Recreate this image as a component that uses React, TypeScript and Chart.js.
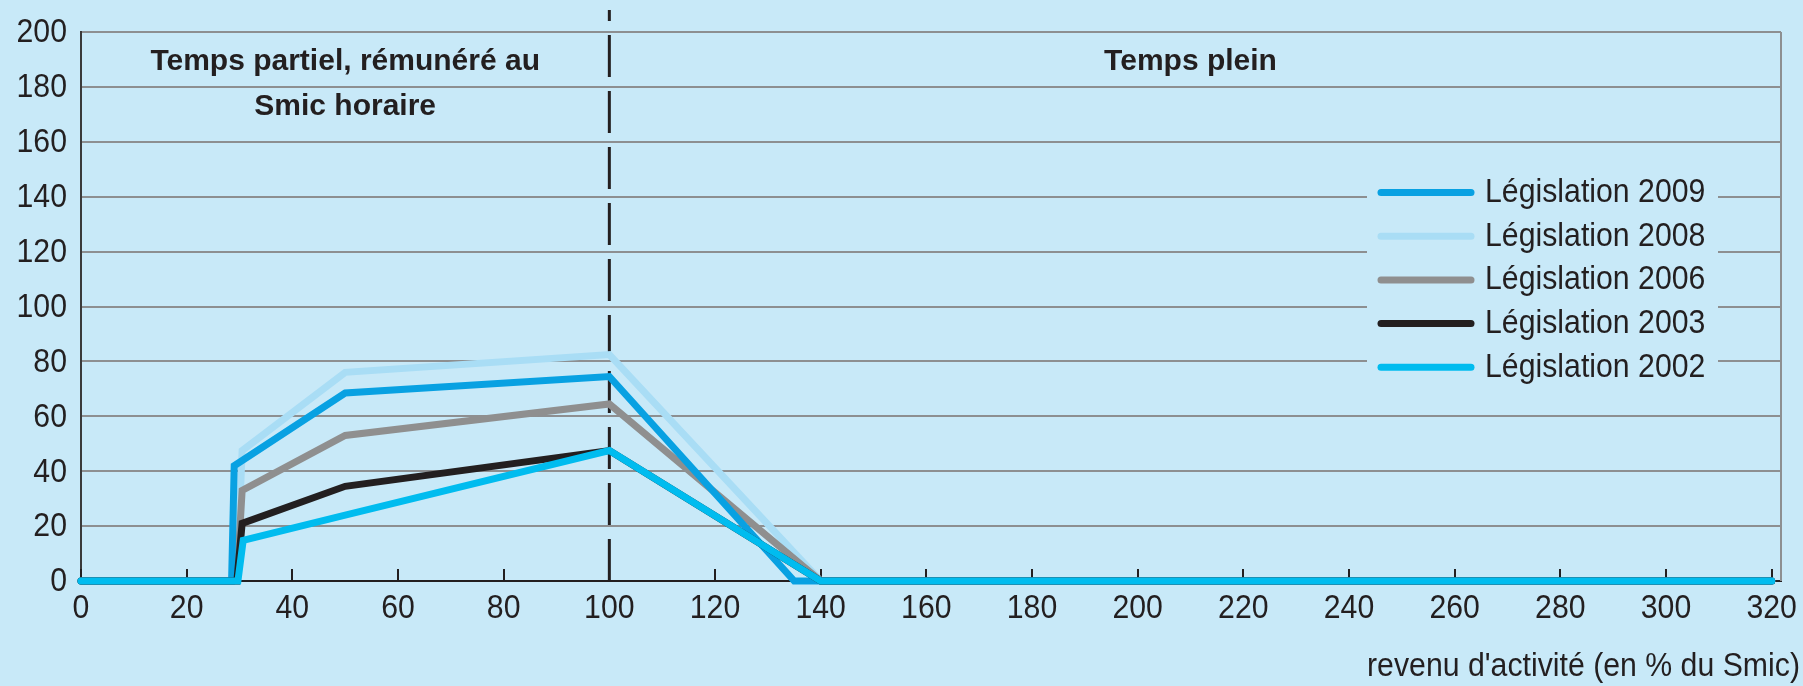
import React, { useEffect, useRef } from "react";
import { Chart, registerables } from "chart.js";

Chart.register(...registerables);

// ---- data ----
const seriesLabels = [
  "Législation 2009",
  "Législation 2008",
  "Législation 2006",
  "Législation 2003",
  "Législation 2002",
];
const seriesColors = ["#08a1e2", "#a9ddf5", "#8f8f8f", "#231f20", "#00bcef"];
const seriesOrder = [2, 4, 3, 1, 0];

const x2009 = [0, 28.5, 29, 50, 100, 135, 320];
const y2009 = [0, 0, 42, 68.5, 74.5, 0, 0];
const x2008 = [0, 29.5, 30.5, 50, 100, 140, 320];
const y2008 = [0, 0, 47.5, 76, 82.5, 0, 0];
const x2006 = [0, 29.5, 30.5, 50, 100, 140, 320];
const y2006 = [0, 0, 33, 53, 64.5, 0, 0];
const x2003 = [0, 29.5, 30.5, 50, 100, 140, 320];
const y2003 = [0, 0, 21, 34.5, 47.5, 0, 0];
const x2002 = [0, 29.7, 30.7, 50, 100, 140, 320];
const y2002 = [0, 0, 14.8, 24, 47.5, 0, 0];

const seriesX = [x2009, x2008, x2006, x2003, x2002];
const seriesY = [y2009, y2008, y2006, y2003, y2002];

const xTickValues = [0, 20, 40, 60, 80, 100, 120, 140, 160, 180, 200, 220, 240, 260, 280, 300, 320];
const yTickValues = [0, 20, 40, 60, 80, 100, 120, 140, 160, 180, 200];

const dividerX = 100;
const zoneLeftLines = ["Temps partiel, rémunéré au", "Smic horaire"];
const zoneLeftCenter = 50;
const zoneRightLines = ["Temps plein"];
const zoneRightCenter = 210;
const xAxisTitle = "revenu d'activité (en % du Smic)";

const BG = "#c8e9f8";
const INK = "#231f20";
const GRID = "#8d8f91";
const FONT = "'Liberation Sans', Arial, sans-serif";
const NARROW = 0.89;

function drawText(ctx: CanvasRenderingContext2D, text: string, x: number, y: number, align: CanvasTextAlign, sx: number) {
  ctx.save();
  ctx.translate(x, y);
  ctx.scale(sx, 1);
  ctx.textAlign = align;
  ctx.textBaseline = "middle";
  ctx.fillText(text, 0, 0);
  ctx.restore();
}

const overlayPlugin = {
  id: "overlay",
  beforeDatasetsDraw(chart: any) {
    const { ctx, chartArea, scales } = chart;
    const x = scales.x;
    const y = scales.y;
    ctx.save();
    // right border
    ctx.strokeStyle = GRID;
    ctx.lineWidth = 2;
    ctx.beginPath();
    ctx.moveTo(chartArea.right, chartArea.top);
    ctx.lineTo(chartArea.right, chartArea.bottom);
    ctx.stroke();
    // inward x ticks
    ctx.strokeStyle = INK;
    ctx.lineWidth = 2;
    for (const v of xTickValues) {
      const px = Math.round(x.getPixelForValue(v));
      ctx.beginPath();
      ctx.moveTo(px, chartArea.bottom);
      ctx.lineTo(px, chartArea.bottom - 12);
      ctx.stroke();
    }
    // dashed divider
    const dx = x.getPixelForValue(dividerX);
    ctx.strokeStyle = INK;
    ctx.lineWidth = 3;
    ctx.setLineDash([42, 14]);
    ctx.beginPath();
    ctx.moveTo(dx, chartArea.bottom);
    ctx.lineTo(dx, chartArea.top - 22);
    ctx.stroke();
    ctx.setLineDash([]);
    // zone labels
    ctx.fillStyle = INK;
    ctx.font = `bold 30px ${FONT}`;
    zoneLeftLines.forEach((t, i) => {
      drawText(ctx, t, x.getPixelForValue(zoneLeftCenter), chartArea.top + 30 + i * 45, "center", 1);
    });
    zoneRightLines.forEach((t, i) => {
      drawText(ctx, t, x.getPixelForValue(zoneRightCenter), chartArea.top + 30 + i * 45, "center", 1);
    });
    // tick labels
    ctx.font = `34px ${FONT}`;
    for (const v of yTickValues) {
      drawText(ctx, String(v), chartArea.left - 14, y.getPixelForValue(v) + 1, "right", NARROW);
    }
    for (const v of xTickValues) {
      drawText(ctx, String(v), x.getPixelForValue(v), chartArea.bottom + 28, "center", NARROW);
    }
    ctx.restore();
  },
  afterDatasetsDraw(chart: any) {
    const { ctx } = chart;
    ctx.save();
    // legend box
    ctx.fillStyle = BG;
    ctx.fillRect(1367, 168, 351, 224);
    chart.data.datasets.forEach((ds: any, i: number) => {
      const cy = 192.5 + i * 43.7;
      ctx.strokeStyle = ds.borderColor;
      ctx.lineWidth = 7;
      ctx.lineCap = "round";
      ctx.beginPath();
      ctx.moveTo(1381, cy);
      ctx.lineTo(1471, cy);
      ctx.stroke();
      ctx.fillStyle = INK;
      ctx.font = `34px ${FONT}`;
      drawText(ctx, ds.label, 1485, cy, "left", NARROW);
    });
    // axis title
    ctx.fillStyle = INK;
    ctx.font = `34px ${FONT}`;
    drawText(ctx, xAxisTitle, 1800, 667, "right", NARROW);
    ctx.restore();
  },
};

export default function App() {
  const canvasRef = useRef<HTMLCanvasElement | null>(null);

  useEffect(() => {
    document.body.style.margin = "0";
    const canvas = canvasRef.current;
    if (!canvas) return;
    const datasets = seriesLabels.map((label, i) => ({
      label,
      data: seriesX[i].map((xv, j) => ({ x: xv, y: seriesY[i][j] })),
      borderColor: seriesColors[i],
      backgroundColor: seriesColors[i],
      borderWidth: 7,
      pointRadius: 0,
      tension: 0,
      fill: false,
      clip: false as any,
      borderCapStyle: "round" as const,
      borderJoinStyle: "miter" as const,
      order: seriesOrder[i],
    }));
    const chart = new Chart(canvas, {
      type: "line",
      data: { datasets },
      options: {
        animation: false,
        responsive: false,
        maintainAspectRatio: false,
        layout: { padding: { left: 0, right: 22, top: 32, bottom: 0 } },
        plugins: { legend: { display: false }, tooltip: { enabled: false } },
        scales: {
          x: {
            type: "linear",
            min: 0,
            max: 321.76,
            afterBuildTicks: (s: any) => {
              s.ticks = xTickValues.map((v) => ({ value: v }));
            },
            afterFit: (s: any) => {
              s.height = 105;
            },
            grid: { display: false, drawTicks: false },
            border: { display: true, color: INK, width: 2 },
            ticks: { display: false },
          },
          y: {
            type: "linear",
            min: 0,
            max: 200,
            afterBuildTicks: (s: any) => {
              s.ticks = yTickValues.map((v) => ({ value: v }));
            },
            afterFit: (s: any) => {
              s.width = 81;
            },
            grid: { color: GRID, lineWidth: 2, drawTicks: false },
            border: { display: true, color: "#3a3a3a", width: 2 },
            ticks: { display: false },
          },
        },
      },
      plugins: [overlayPlugin],
    });
    return () => chart.destroy();
  }, []);

  return (
    <div style={{ position: "absolute", left: 0, top: 0, width: 1803, height: 686, background: BG }}>
      <canvas ref={canvasRef} width={1803} height={686} style={{ display: "block", width: 1803, height: 686 }} />
    </div>
  );
}
